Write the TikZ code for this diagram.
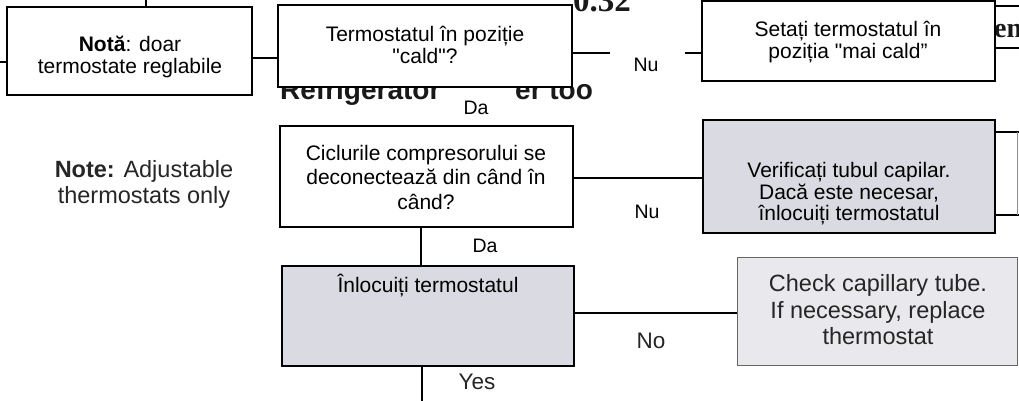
\documentclass[tikz,border=0pt]{standalone}
\usepackage{fontspec}
\setmainfont{Liberation Sans}
\newfontfamily\bgserif{Liberation Serif}
\definecolor{boxgray}{RGB}{218,218,226}
\definecolor{boxlight}{RGB}{233,233,237}
\definecolor{scantext}{RGB}{38,38,38}
\definecolor{bgink}{RGB}{25,25,25}
\newcommand{\sq}{\textquotedbl}
\begin{document}
\begin{tikzpicture}[x=1pt,y=-1pt,
  box/.style={draw=black,line width=1.7pt,fill=white,rectangle,inner sep=0pt},
  graybox/.style={box,fill=boxgray},
  lightbox/.style={box,draw=black!60,line width=0.9pt,fill=boxlight},
  txt/.style={align=center,inner sep=0pt,font=\fontsize{21}{22.5}\selectfont},
  scan/.style={align=center,inner sep=0pt,text=scantext,font=\fontsize{23.5}{26.5}\selectfont},
  lbl/.style={inner sep=0pt,font=\fontsize{19.5}{22}\selectfont},
  scanlbl/.style={inner sep=0pt,text=scantext,font=\fontsize{22.5}{25}\selectfont},
  conn/.style={line width=1.2pt},
  faint/.style={line width=0.8pt,draw=black!45},
  bgsans/.style={inner sep=0pt,anchor=base west,text=bgink,font=\fontsize{28}{30}\selectfont\bfseries},
  bgser/.style={inner sep=0pt,text=bgink,font=\fontsize{33}{35}\selectfont\bgserif\bfseries},
]
\useasboundingbox (0,0) rectangle (1019,401);
\fill[white] (0,0) rectangle (1019,401);

% fragments of the scanned page behind the boxes
\node[bgser,anchor=base east] (h1) at (631,12) {0.32};
\node[bgser,anchor=base west,font=\fontsize{28}{30}\selectfont\bgserif\bfseries] (h2) at (994,38) {en};
\node[bgsans] (h3) at (280,100) {Refrigerator};
\node[bgsans] (h4) at (515,100) {er too};

% boxes
\node[box,minimum width=245pt,minimum height=88pt] (b1) at (129.5,51) {};
\node[box,minimum width=294pt,minimum height=82pt] (b2) at (425,46) {};
\node[box,minimum width=293pt,minimum height=80pt] (b3) at (848.5,41) {};
\node[box,minimum width=293pt,minimum height=101pt] (b4) at (426.5,176.5) {};
\node[graybox,minimum width=292pt,minimum height=113pt] (b5) at (849,176.5) {};
\node[graybox,minimum width=292pt,minimum height=100pt] (b6) at (428,316) {};
\node[lightbox,minimum width=280pt,minimum height=108pt] (b7) at (877,311) {};

% right-edge fragments
\coordinate (e1) at (1019,6);
\coordinate (e2) at (1019,48);
\coordinate (e3) at (1019,132);
\coordinate (e4) at (1019,215);
\coordinate (e5) at (1017,132);
\coordinate (e6) at (1017,215);
\draw[conn] (e1 -| b3.east) -- (e1);
\draw[conn] (e2 -| b3.east) -- (e2);
\draw[conn] (e3 -| b5.east) -- (e3);
\draw[conn] (e4 -| b5.east) -- (e4);
\draw[faint] (e5) -- (e6);

% connectors
\coordinate (s0) at (0,62);
\coordinate (s1) at (146,0);
\draw[conn] (s0) -- (s0 -| b1.west);
\draw[conn] (s1) -- (s1 |- b1.north);
\coordinate (y12) at (265,58);
\draw[conn] (y12 -| b1.east) -- (y12 -| b2.west);
\coordinate (g1) at (610,53);
\coordinate (g2) at (685,53);
\draw[conn] (g1 -| b2.east) -- (g1);
\draw[conn] (g2) -- (g2 -| b3.west);
\coordinate (y45) at (640,178);
\draw[conn] (y45 -| b4.east) -- (y45 -| b5.west);
\coordinate (x46) at (421,250);
\draw[conn] (x46 |- b4.south) -- (x46 |- b6.north);
\coordinate (y67) at (650,313);
\draw[conn] (y67 -| b6.east) -- (y67 -| b7.west);
\coordinate (bot) at (422,401);
\draw[conn] (bot |- b6.south) -- (bot);

% connector labels
\node[lbl] (nu1) at (646,65) {Nu};
\node[lbl] (da1) at (476,108) {Da};
\node[lbl] (nu2) at (647,212) {Nu};
\node[lbl] (da2) at (485,246) {Da};
\node[scanlbl] (no) at (651,341) {No};
\node[scanlbl] (yes) at (477,382) {Yes};

% box texts
\node[txt] (t1) at (130,57) {\textbf{Notă}: doar\\termostate reglabile};
\node[txt] (t2) at (425,45) {Termostatul în poziție\\\sq cald\sq ?};
\node[txt] (t3) at (848,42) {Setați termostatul în\\poziția \sq mai cald”};
\node[txt,font=\fontsize{21}{24.5}\selectfont] (t4) at (426,177) {Ciclurile compresorului se\\deconectează din când în\\când?};
\node[txt,font=\fontsize{21}{21.5}\selectfont] (t5) at (849,194) {Verificați tubul capilar.\\Dacă este necesar,\\înlocuiți termostatul};
\node[txt] (t6) at (428,286) {Înlocuiți termostatul};
\node[scan] (t7) at (878,310) {Check capillary tube.\\If necessary, replace\\thermostat};
\node[scan,font=\fontsize{23.5}{26}\selectfont] (note) at (144,184) {\textbf{Note:} Adjustable\\thermostats only};
\end{tikzpicture}
\end{document}
